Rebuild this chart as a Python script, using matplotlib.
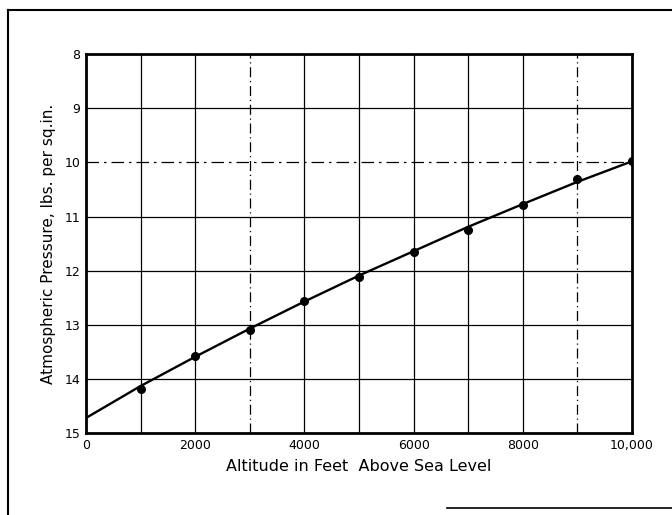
import matplotlib.pyplot as plt
from matplotlib.lines import Line2D

# smooth pressure curve, lbs per sq. in.
curve_alt = [0, 1000, 2000, 3000, 4000, 5000, 6000, 7000, 8000, 9000, 10000]
curve_psi = [14.72, 14.13, 13.59, 13.07, 12.57, 12.09, 11.64, 11.19, 10.77, 10.36, 9.98]

# plotted readings
obs_alt = [1000, 2000, 3000, 4000, 5000, 6000, 7000, 8000, 9000, 10000]
obs_psi = [14.19, 13.58, 13.09, 12.56, 12.11, 11.65, 11.25, 10.78, 10.30, 9.98]

y_ticks = [8, 9, 10, 11, 12, 13, 14, 15]
y_labels = ['8', '9', '10', '11', '12', '13', '14', '15']
x_ticks = [0, 2000, 4000, 6000, 8000, 10000]
x_labels = ['0', '2000', '4000', '6000', '8000', '10,000']

fig = plt.figure(figsize=(6.72, 5.15), dpi=100)
ax = fig.add_axes([0.128, 0.159, 0.8125, 0.736])

# grid every 1000 ft and every 1 psi
for x in range(1000, 10000, 1000):
    ls = (0, (8, 3, 1, 3)) if x in (3000, 9000) else '-'
    ax.axvline(x, color='black', lw=0.9, ls=ls, zorder=1)
for y in range(9, 15):
    ls = (0, (10, 4, 2, 4)) if y == 10 else '-'
    ax.axhline(y, color='black', lw=0.9, ls=ls, zorder=1)

ax.plot(curve_alt, curve_psi, color='black', lw=1.7, zorder=3)
ax.plot(obs_alt, obs_psi, 'o', color='black', ms=5.5, zorder=4)

ax.set_xlim(0, 10000)
ax.set_ylim(15, 8)
ax.set_xticks(x_ticks)
ax.set_xticklabels(x_labels)
ax.set_yticks(y_ticks)
ax.set_yticklabels(y_labels)
ax.tick_params(length=0, labelsize=9, pad=4)

for s in ax.spines.values():
    s.set_linewidth(2)

ax.set_xlabel('Altitude in Feet  Above Sea Level', fontsize=11.5, labelpad=5)
ax.set_ylabel('Atmospheric Pressure, lbs. per sq.in.', fontsize=11, labelpad=6)

# page border lines
fig.add_artist(Line2D([0.012, 0.012], [0.0, 0.981], color='black', lw=1.5))
fig.add_artist(Line2D([0.012, 1.0], [0.981, 0.981], color='black', lw=1.5))
fig.add_artist(Line2D([0.665, 1.0], [0.014, 0.014], color='black', lw=1.2))

fig.savefig('out.png', dpi=100)
